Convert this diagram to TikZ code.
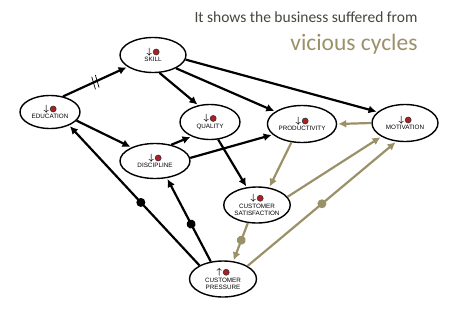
\documentclass[tikz,border=0pt]{standalone}
\usepackage{fontspec}
\setmainfont{Carlito}
\setsansfont{Liberation Sans}
\usepackage{tikz}
\usetikzlibrary{arrows.meta, decorations.markings, shapes.geometric}

\definecolor{olive}{RGB}{155,145,105}
\definecolor{titlegray}{RGB}{70,70,60}
\definecolor{sadred}{RGB}{175,30,35}

% mood marks above each label
\newcommand{\sadface}{\tikz[baseline=-0.7ex]\draw[fill=sadred,draw=black!80,line width=0.6pt] (0,0) circle (3pt);}
\newcommand{\moodup}{{\fontsize{9}{9}\selectfont$\boldsymbol{\uparrow}$}\,\sadface}
\newcommand{\mooddown}{{\fontsize{9}{9}\selectfont$\boldsymbol{\downarrow}$}\,\sadface}
\usepackage{amsmath}

\begin{document}
\begin{tikzpicture}[x=1pt, y=-1pt,
    factor/.style={ellipse, draw, line width=1.4pt, align=center, inner sep=1pt,
        minimum width=64pt, minimum height=35pt,
        font=\sffamily\fontsize{6.3}{7.5}\selectfont},
    cause/.style={line width=2.2pt, -{Latex[length=8pt,width=8pt]}, shorten >=1pt},
    feedback/.style={cause, draw=olive},
    delay/.style={postaction={decorate, decoration={markings,
        mark=at position 0.5 with {\draw[-, line width=0.7pt] (-3pt,-7pt) -- (-1pt,7pt);
                                   \draw[-, line width=0.7pt] (1pt,-7pt) -- (3pt,7pt);}}}},
    dampen/.style={postaction={decorate, decoration={markings,
        mark=at position #1 with {\fill (0,0) circle (4.5pt);}}}}]

\useasboundingbox (0,0) rectangle (452,308);

% title
\node[anchor=east, text=titlegray, font=\fontsize{15.5}{17}\selectfont] (title) at (421,17) {It shows the business suffered from};
\node[anchor=east, text=olive, font=\fontsize{23.5}{25}\selectfont] (subtitle) at (421,44) {vicious cycles};

% factors
\node[factor, minimum width=66pt] (skill) at (153,55) {\mooddown\\SKILL};
\node[factor, minimum width=60pt, minimum height=33pt] (edu) at (50,112) {\mooddown\\EDUCATION};
\node[factor, minimum width=60pt] (quality) at (210,122) {\mooddown\\QUALITY};
\node[factor, minimum width=63pt, minimum height=37pt] (prod) at (302,124) {\mooddown\\PRODUCTIVITY};
\node[factor, minimum width=66pt, minimum height=37pt] (motiv) at (405,123) {\mooddown\\MOTIVATION};
\node[factor, minimum width=70pt] (disc) at (155,161) {\mooddown\\DISCIPLINE};
\node[factor, minimum width=60pt, minimum height=36pt] (custsat) at (257,205) {\mooddown\\CUSTOMER\\SATISFACTION};
\node[factor, minimum width=67pt, minimum height=36pt] (custpres) at (223,279) {\moodup\\CUSTOMER\\PRESSURE};

% black links
\draw[cause, delay] (edu.50) -- (skill.205);
\draw[cause] (skill.290) -- (quality.125);
\draw[cause] (skill.330) -- (prod.155);
\draw[cause] (skill.352) -- (motiv.158);
\draw[cause] (edu.342) -- (disc.150);
\draw[cause] (disc.45) -- (quality.218);
\draw[cause] (disc.5) -- (prod.200);
\draw[cause] (quality.295) -- (custsat.120);
\draw[cause, dampen=0.45] (custpres.150) -- (edu.325);
\draw[cause, dampen=0.45] (custpres.125) -- (disc.305);

% olive links
\draw[feedback] (motiv.west) -- (prod.east);
\draw[feedback] (prod.240) -- (custsat.55);
\draw[feedback] (custsat.15) -- (motiv.210);
\draw[feedback, dampen=0.45, fill=olive] (custsat.243) -- (custpres.60);
\draw[feedback, dampen=0.5, fill=olive] (custpres.28) -- (motiv.245);

\end{tikzpicture}
\end{document}
